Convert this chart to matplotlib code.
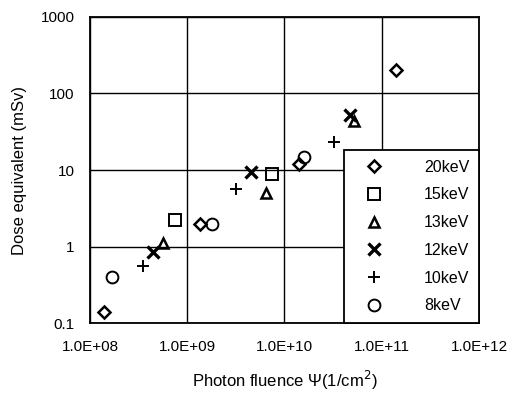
import matplotlib
matplotlib.use('Agg')
import matplotlib.pyplot as plt
from matplotlib.ticker import FixedLocator, FixedFormatter, NullLocator

plt.rcParams['font.family'] = ['Liberation Sans', 'DejaVu Sans']

# ---- data (photon fluence 1/cm2, dose mSv) ----
labels = ['20keV', '15keV', '13keV', '12keV', '10keV', '8keV']
markers = ['D', 's', '^', 'x', '+', 'o']

fluence_20 = [1.4e8, 1.35e9, 1.4e10, 1.4e11]
dose_20 = [0.14, 2.0, 12.0, 200.0]
fluence_15 = [7.5e8, 7.5e9]
dose_15 = [2.2, 9.0]
fluence_13 = [5.6e8, 6.5e9, 5.2e10]
dose_13 = [1.1, 5.0, 44.0]
fluence_12 = [4.5e8, 4.5e9, 4.7e10]
dose_12 = [0.85, 9.5, 53.0]
fluence_10 = [3.5e8, 3.2e9, 3.2e10]
dose_10 = [0.56, 5.6, 23.0]
fluence_8 = [1.7e8, 1.8e9, 1.6e10]
dose_8 = [0.4, 2.0, 15.0]

series_x = [fluence_20, fluence_15, fluence_13, fluence_12, fluence_10, fluence_8]
series_y = [dose_20, dose_15, dose_13, dose_12, dose_10, dose_8]

x_ticks = [1e8, 1e9, 1e10, 1e11, 1e12]
x_ticklabels = ['1.0E+08', '1.0E+09', '1.0E+10', '1.0E+11', '1.0E+12']
y_ticks = [0.1, 1, 10, 100, 1000]
y_ticklabels = ['0.1', '1', '10', '100', '1000']

fig = plt.figure(figsize=(5.14, 3.94), dpi=100)
ax = fig.add_axes([0.175, 0.180, 0.757, 0.777])

# marker sizes / widths per symbol
sizes = {'D': 6.5, 's': 8, '^': 7.5, 'x': 8, '+': 9, 'o': 8.5}
widths = {'D': 1.8, 's': 1.4, '^': 1.8, 'x': 2.4, '+': 1.4, 'o': 1.4}

for xs, ys, m, lab in zip(series_x, series_y, markers, labels):
    ax.plot(xs, ys, linestyle='none', marker=m, markersize=sizes[m],
            markerfacecolor='none', markeredgecolor='black',
            markeredgewidth=widths[m], color='black', label=lab)

ax.set_xscale('log')
ax.set_yscale('log')
ax.set_xlim(1e8, 1e12)
ax.set_ylim(0.1, 1000)

ax.xaxis.set_major_locator(FixedLocator(x_ticks))
ax.xaxis.set_major_formatter(FixedFormatter(x_ticklabels))
ax.xaxis.set_minor_locator(NullLocator())
ax.yaxis.set_major_locator(FixedLocator(y_ticks))
ax.yaxis.set_major_formatter(FixedFormatter(y_ticklabels))
ax.yaxis.set_minor_locator(NullLocator())
ax.tick_params(length=0, labelsize=11)
ax.tick_params(axis='x', pad=12)
ax.tick_params(axis='y', pad=11)

ax.grid(True, which='major', color='black', linewidth=1.0)
for sp in ax.spines.values():
    sp.set_linewidth(1.3)

ax.set_xlabel('Photon fluence \u03a8(1/cm$^2$)', fontsize=12, labelpad=11)
ax.set_ylabel('Dose equivalent (mSv)', fontsize=12, labelpad=10)

leg = ax.legend(loc='lower right', frameon=True, fancybox=False,
                edgecolor='black', framealpha=1, fontsize=11.5,
                borderaxespad=0, handletextpad=1.9, labelspacing=0.8,
                borderpad=0.6, handlelength=2.5)
leg.get_frame().set_linewidth(1.3)

fig.savefig('out.png', dpi=100)
